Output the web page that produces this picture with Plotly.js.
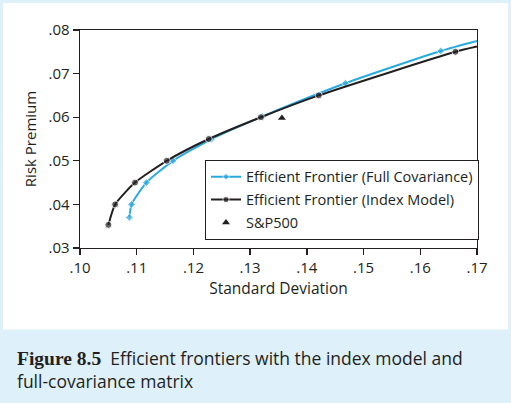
<!DOCTYPE html>
<html>
<head>
<meta charset="utf-8">
<script src="https://cdn.plot.ly/plotly-3.0.1.min.js"></script>
<style>html,body{margin:0;padding:0;background:#ffffff;}#chart{width:511px;height:403px;}</style>
</head>
<body>
<div id="chart"></div>
<script>
// Efficient Frontier (Full Covariance)
const fullCovSD = [0.1087, 0.1091, 0.1117, 0.1164, 0.1232, 0.1322, 0.1468, 0.1636, 0.1700];
const fullCovRP = [0.0370, 0.0400, 0.0450, 0.0500, 0.0550, 0.0602, 0.0678, 0.0752, 0.0775];
// Efficient Frontier (Index Model)
const indexSD = [0.1050, 0.1062, 0.1097, 0.1153, 0.1227, 0.1319, 0.1421, 0.1662, 0.1700];
const indexRP = [0.0353, 0.0400, 0.0450, 0.0500, 0.0550, 0.0600, 0.0650, 0.0750, 0.0762];
// S&P500
const spSD = [0.1356];
const spRP = [0.0598];

const xTickVals = [0.10, 0.11, 0.12, 0.13, 0.14, 0.15, 0.16, 0.17];
const xTickText = ['.10', '.11', '.12', '.13', '.14', '.15', '.16', '.17'];
const yTickVals = [0.03, 0.04, 0.05, 0.06, 0.07, 0.08];
const yTickText = ['.03', '.04', '.05', '.06', '.07', '.08'];

const ink = '#231f20';
const cyan = '#29a9e1';
const band = '#def0fa';

function sizes(n, s) { const a = new Array(n).fill(s); a[n - 1] = 0; return a; }

const traces = [
  {
    x: fullCovSD, y: fullCovRP, type: 'scatter', mode: 'lines+markers',
    name: 'Efficient Frontier (Full Covariance)', legendgroup: 'g1',
    line: {color: cyan, width: 2, shape: 'spline', smoothing: 0.6},
    marker: {color: cyan, size: sizes(fullCovSD.length, 6), symbol: 'diamond'}
  },
  {
    x: indexSD, y: indexRP, type: 'scatter', mode: 'lines+markers',
    name: 'Efficient Frontier (Index Model)', legendgroup: 'g2',
    line: {color: ink, width: 2, shape: 'spline', smoothing: 0.6},
    marker: {color: ink, size: sizes(indexSD.length, 7), symbol: 'circle'}
  },
  {
    x: spSD, y: spRP, type: 'scatter', mode: 'markers',
    name: 'S&P500', legendgroup: 'g3',
    marker: {color: ink, size: 7, symbol: 'triangle-up'}
  }
];

const axisCommon = {
  showline: true, linecolor: ink, linewidth: 1.3, mirror: true,
  ticks: 'outside', ticklen: 6, tickcolor: ink, tickwidth: 1.3,
  showgrid: false, zeroline: false,
  tickfont: {family: 'Open Sans, sans-serif', size: 15, color: ink},
  tickmode: 'array'
};

const layout = {
  width: 511, height: 403,
  margin: {l: 80, r: 34, t: 30, b: 155},
  paper_bgcolor: band,
  plot_bgcolor: '#ffffff',
  font: {family: 'Open Sans, sans-serif', color: ink},
  showlegend: true,
  xaxis: Object.assign({}, axisCommon, {
    range: [0.10, 0.17], tickvals: xTickVals, ticktext: xTickText,
    title: {text: 'Standard Deviation', font: {size: 15.5, color: ink}, standoff: 7}
  }),
  yaxis: Object.assign({}, axisCommon, {
    range: [0.03, 0.08], tickvals: yTickVals, ticktext: yTickText,
    title: {text: 'Risk Premium', font: {size: 15, color: ink}, standoff: 8}
  }),
  legend: {
    x: (205 - 80) / 397, y: 1 - (160 - 30) / 218.3, xanchor: 'left', yanchor: 'top',
    bgcolor: '#ffffff', bordercolor: ink, borderwidth: 1,
    font: {size: 14.5, color: ink}, tracegroupgap: 1
  },
  shapes: [
    {type: 'rect', xref: 'paper', yref: 'paper', layer: 'below',
     x0: (3 - 80) / 397, x1: (508 - 80) / 397,
     y0: 1 - (330 - 30) / 218.3, y1: 1 + (30 - 3) / 218.3,
     fillcolor: '#ffffff', line: {width: 0}}
  ],
  annotations: [
    {xref: 'paper', yref: 'paper', x: (15 - 80) / 397, y: 1 - (344 - 30) / 218.3,
     xanchor: 'left', yanchor: 'top', align: 'left', showarrow: false,
     font: {family: 'Open Sans, sans-serif', size: 17.5, color: ink},
     text: '<span style="font-family:\'Liberation Serif\',serif;font-weight:bold;font-size:19.5px">Figure 8.5</span>  Efficient frontiers with the index model and<br>full-covariance matrix'}
  ]
};

Plotly.newPlot('chart', traces, layout, {displayModeBar: false, staticPlot: true});
</script>
</body>
</html>
